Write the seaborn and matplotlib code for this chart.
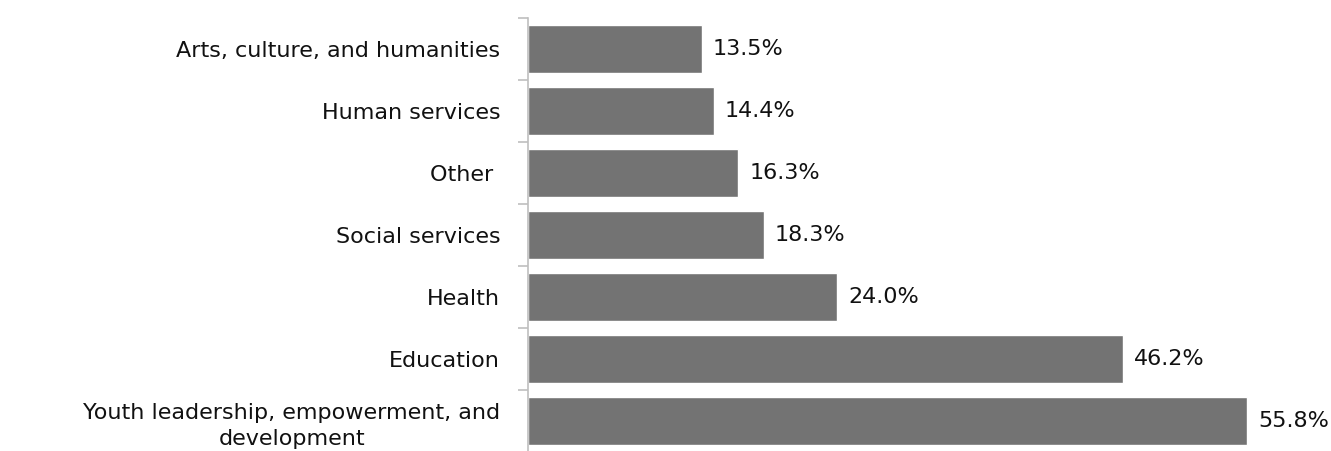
import matplotlib
matplotlib.use("Agg")
import matplotlib.pyplot as plt
import seaborn as sns
import pandas as pd
from matplotlib.ticker import FixedLocator

categories = [
    "Arts, culture, and humanities",
    "Human services",
    "Other ",
    "Social services",
    "Health",
    "Education",
    "Youth leadership, empowerment, and\ndevelopment",
]
values = [13.5, 14.4, 16.3, 18.3, 24.0, 46.2, 55.8]

df = pd.DataFrame({"category": categories, "value": values})

sns.set_theme(style="white")
plt.rcParams["font.family"] = ["DejaVu Sans"]

fig = plt.figure(figsize=(13.31, 4.51), dpi=100)
ax = fig.add_axes([528 / 1331, -0.002, (1301 - 528) / 1331, 0.962])

sns.barplot(data=df, x="value", y="category", orient="h", color="#737373",
            saturation=1, width=0.77, ax=ax)

ax.set_xlim(0, 60)
ax.set_ylim(len(categories) - 0.5, -0.5)
ax.set_xlabel("")
ax.set_ylabel("")
ax.set_xticks([])

for side in ["top", "right", "bottom"]:
    ax.spines[side].set_visible(False)
ax.spines["left"].set_color("#bfbfbf")
ax.spines["left"].set_linewidth(1.2)

ax.tick_params(axis="y", which="major", length=0, pad=20, labelsize=16,
               labelcolor="#111111")
for lbl in ax.get_yticklabels():
    lbl.set_horizontalalignment("right")
    lbl.set_multialignment("center")
    lbl.set_linespacing(1.4)

ax.yaxis.set_minor_locator(FixedLocator([i - 0.5 for i in range(len(categories) + 1)]))
ax.tick_params(axis="y", which="minor", length=7, width=1.2, color="#bfbfbf", left=True)

for i, v in enumerate(values):
    ax.annotate(f"{v:.1f}%", xy=(v, i), xytext=(8, 0), textcoords="offset points",
                va="center", ha="left", fontsize=16, color="#111111")

fig.savefig("out.png", dpi=100)
